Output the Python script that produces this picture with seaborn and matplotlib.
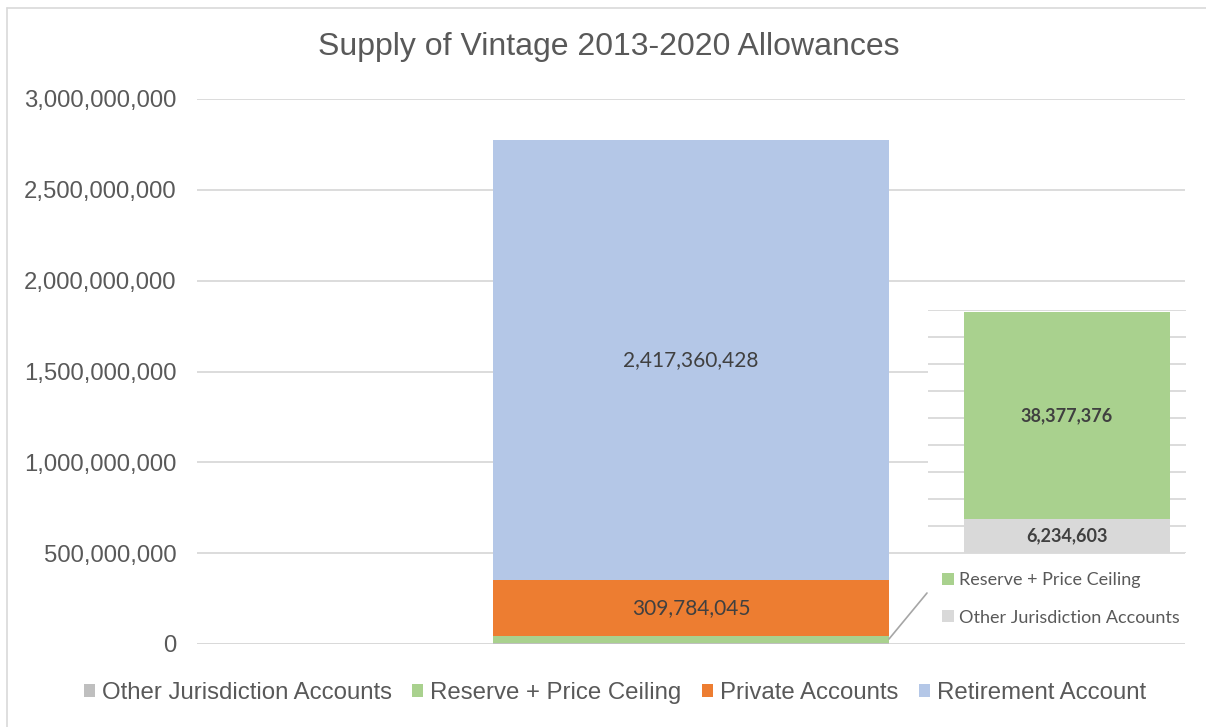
import matplotlib
matplotlib.use("Agg")
import matplotlib.pyplot as plt
from matplotlib.patches import Patch
from matplotlib.lines import Line2D
import matplotlib.ticker as mticker
import seaborn as sns
import pandas as pd
import numpy as np

# ---- data ----
category = ["Vintage 2013-2020"]
series_names = ["Other Jurisdiction Accounts", "Reserve + Price Ceiling",
                "Private Accounts", "Retirement Account"]
series_values = [6234603, 38377376, 309784045, 2417360428]
main_colors = ["#BFBFBF", "#A9D18E", "#ED7D31", "#B4C7E7"]
inset_names = ["Reserve + Price Ceiling", "Other Jurisdiction Accounts"]
inset_values = [6234603, 38377376]          # bottom -> top (Other, Reserve)
inset_colors = ["#D9D9D9", "#A9D18E"]
y_ticks = [0, 500000000, 1000000000, 1500000000, 2000000000, 2500000000, 3000000000]
title = "Supply of Vintage 2013-2020 Allowances"

sns.set_theme(style="white")
plt.rcParams['font.family'] = ['Liberation Sans', 'DejaVu Sans']

W, H = 1206, 727
fig = plt.figure(figsize=(W / 100, H / 100), dpi=100)

def fx(px):
    return px / W

def fy(py):
    return 1 - py / H

GRID = "#D9D9D9"
TXT = "#595959"
LBL = "#404040"

# ---- main axes ----
ax = fig.add_axes([fx(197), fy(644), fx(1185) - fx(197), fy(99) - fy(644)])
cum = np.cumsum(series_values)
for i in reversed(range(len(series_values))):
    df = pd.DataFrame({"cat": category, "val": [cum[i]]})
    sns.barplot(data=df, x="cat", y="val", color=main_colors[i], saturation=1,
                width=0.4, linewidth=0, ax=ax, zorder=2)
ax.set_xlim(-0.5, 0.5)
ax.set_ylim(0, 3000000000)
ax.set_yticks(y_ticks)
ax.yaxis.set_major_formatter(mticker.FuncFormatter(lambda v, p: f"{v:,.0f}"))
ax.tick_params(axis="y", length=0, pad=15, labelsize=17.2, labelcolor=TXT)
ax.set_xticks([])
ax.set_xlabel("")
ax.set_ylabel("")
for s in ax.spines.values():
    s.set_visible(False)
ax.grid(axis="y", color=GRID, linewidth=1.3, zorder=0)
ax.set_axisbelow(True)
ax.axhline(0, color=GRID, linewidth=1.3, zorder=1)

# main data labels
bottoms = np.concatenate([[0], cum[:-1]])
for i in [2, 3]:
    ax.text(0, bottoms[i] + series_values[i] / 2, f"{series_values[i]:,}",
            ha="center", va="center", fontsize=15, color=LBL, family=["Lato", "DejaVu Sans"], zorder=5)

# ---- inset axes ----
iax = fig.add_axes([fx(928), fy(553), fx(1186) - fx(928), fy(310) - fy(553)])
iax.set_facecolor("white")
icum = np.cumsum(inset_values)
for i in reversed(range(len(inset_values))):
    df = pd.DataFrame({"cat": category, "val": [icum[i]]})
    sns.barplot(data=df, x="cat", y="val", color=inset_colors[i], saturation=1,
                width=0.8, linewidth=0, ax=iax, zorder=2)
iax.set_xlim(-0.54, 0.462)
iax.set_ylim(0, 45000000)
iax.set_yticks(np.arange(0, 45000001, 5000000))
iax.set_yticklabels([])
iax.tick_params(length=0)
iax.set_xticks([])
iax.set_xlabel("")
iax.set_ylabel("")
for s in iax.spines.values():
    s.set_visible(False)
iax.grid(axis="y", color=GRID, linewidth=1.3, zorder=0)
iax.set_axisbelow(True)
ibottoms = np.concatenate([[0], icum[:-1]])
for i in range(len(inset_values)):
    iax.text(0, ibottoms[i] + inset_values[i] / 2, f"{inset_values[i]:,}",
             ha="center", va="center", fontsize=13, fontweight="bold", color=LBL,
             family=["Lato", "DejaVu Sans"], zorder=5)

# inset legend
ih = [Patch(facecolor="#A9D18E", edgecolor="none"), Patch(facecolor="#D9D9D9", edgecolor="none")]
leg2 = fig.legend(ih, inset_names, loc="upper left", bbox_to_anchor=(fx(926), fy(556)),
                  frameon=False, handlelength=0.65, handleheight=0.65, handletextpad=0.3,
                  labelspacing=1.18, prop={"family": "Lato", "size": 13}, labelcolor=TXT)

# connector line
fig.add_artist(Line2D([fx(889), fx(927)], [fy(639), fy(593)], color="#A6A6A6",
                      linewidth=1.2, transform=fig.transFigure))

# ---- title ----
fig.text(fx(609), fy(47), title, ha="center", va="center", fontsize=23, color=TXT)

# ---- main legend ----
mh = [Patch(facecolor=c, edgecolor="none") for c in main_colors]
fig.legend(mh, series_names, loc="center", bbox_to_anchor=(fx(615), fy(693)), ncol=4,
           frameon=False, handlelength=0.45, handleheight=0.45, handletextpad=0.3,
           columnspacing=0.85, fontsize=17.3, labelcolor=TXT)

# ---- chart border ----
fig.add_artist(Line2D([fx(7), 1], [fy(8), fy(8)], color=GRID, linewidth=1.2, transform=fig.transFigure))
fig.add_artist(Line2D([fx(7), fx(7)], [fy(8), 0], color=GRID, linewidth=1.2, transform=fig.transFigure))

fig.savefig("out.png", dpi=100)
